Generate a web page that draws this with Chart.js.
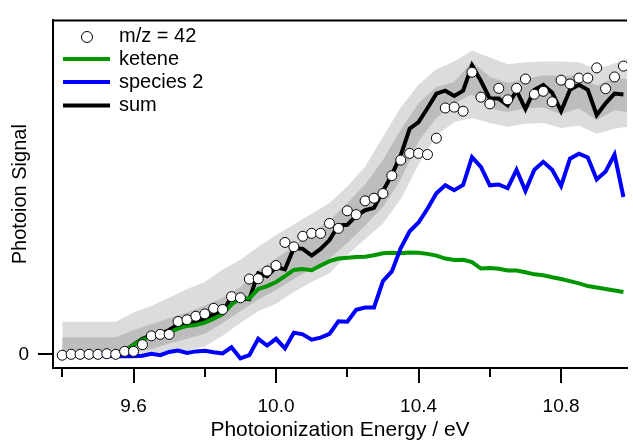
<!DOCTYPE html>
<html>
<head>
<meta charset="utf-8">
<script src="https://cdn.jsdelivr.net/npm/chart.js@4"></script>
<style>
html, body { margin: 0; padding: 0; background: #fff; }
#wrap { width: 633px; height: 443px; }
</style>
</head>
<body>
<div id="wrap"><canvas id="myChart" width="633" height="443"></canvas></div>
<script>
// photon energy (eV) of each scan point
const energy = [9.400, 9.425, 9.450, 9.475, 9.500, 9.525, 9.550, 9.575, 9.600, 9.625,
	9.650, 9.675, 9.700, 9.725, 9.750, 9.775, 9.800, 9.825, 9.850, 9.875,
	9.900, 9.925, 9.950, 9.975, 10.000, 10.025, 10.050, 10.075, 10.100, 10.125,
	10.150, 10.175, 10.200, 10.225, 10.250, 10.275, 10.300, 10.325, 10.350, 10.375,
	10.400, 10.425, 10.450, 10.475, 10.500, 10.525, 10.550, 10.575, 10.600, 10.625,
	10.650, 10.675, 10.700, 10.725, 10.750, 10.775, 10.800, 10.825, 10.850, 10.875,
	10.900, 10.925, 10.950, 10.975];

const mz42 = [-0.3, 0, 0, 0, 0, 0.2, 0, 1.0, 1.0, 3.3,
	6.3, 6.8, 6.8, 11.2, 11.8, 13.0, 13.8, 15.7, 15.3, 19.7,
	19.3, 25.7, 25.8, 28.4, 30.3, 38.2, 36.7, 40.3, 41.3, 41.3,
	44.7, 43.0, 49.0, 47.7, 52.4, 53.3, 54.9, 61.0, 66.3, 68.6,
	68.6, 68.2, 73.8, 84.1, 84.4, 83.0, 96.3, 87.8, 85.5, 90.8,
	86.9, 90.8, 94.0, 88.8, 89.8, 86.2, 93.6, 92.3, 94.3, 94.3,
	97.8, 90.7, 94.7, 98.4];

const ketene = [-0.2, -0.2, -0.2, -0.2, -0.2, -0.2, 0, 1.0, 3.2, 5.0,
	6.0, 6.8, 7.5, 8.8, 9.7, 10.0, 10.8, 12.2, 13.7, 17.0,
	19.3, 19.1, 22.3, 23.3, 24.7, 26.7, 28.8, 29.1, 28.7, 30.3,
	31.8, 32.7, 33.0, 33.2, 33.3, 33.8, 34.5, 34.7, 34.5, 34.8,
	34.7, 34.3, 33.7, 32.7, 32.2, 32.3, 31.5, 29.3, 29.5, 29.2,
	28.6, 28.6, 28.0, 27.3, 27.0, 26.3, 25.7, 25.0, 24.2, 23.3,
	22.8, 22.3, 21.8, 21.3];

const species2 = [-0.3, -0.3, -0.3, -0.5, -0.5, -0.5, -0.7, -0.7, -0.7, -0.5,
	0.2, -0.3, 0.8, 1.3, 0.5, 1.0, 1.2, 0.7, 0.3, 2.4,
	-1.4, -0.3, 5.3, 3.0, 5.3, 2.0, 7.4, 6.8, 5.0, 5.7,
	7.0, 11.3, 11.1, 15.2, 16.0, 16.0, 25.0, 28.3, 36.3, 42.0,
	45.0, 49.7, 55.0, 57.7, 56.0, 57.8, 67.3, 64.0, 57.7, 58.0,
	56.7, 63.0, 55.8, 63.0, 65.7, 63.0, 57.5, 66.8, 68.5, 67.2,
	59.7, 62.4, 68.2, 53.7];

const sum = [-0.2, -0.2, -0.2, -0.2, -0.2, -0.2, 0, 1.2, 3.3, 5.3,
	6.5, 7.0, 8.3, 10.2, 10.3, 11.0, 12.2, 13.7, 14.3, 19.7,
	19.0, 18.8, 27.7, 26.7, 29.8, 29.0, 36.3, 36.0, 33.7, 36.0,
	39.0, 44.0, 44.2, 47.3, 49.2, 50.0, 55.7, 61.3, 68.0, 77.0,
	79.3, 84.0, 89.0, 90.0, 88.2, 90.0, 98.7, 93.3, 87.3, 87.3,
	85.0, 90.0, 83.7, 90.3, 92.0, 89.3, 83.0, 90.3, 92.0, 90.3,
	81.7, 85.7, 89.0, 88.7];

// uncertainty bands around the sum
const bandEnergy = [9.40, 9.45, 9.50, 9.55, 9.60, 9.65, 9.70, 9.75, 9.80, 9.85,
	9.90, 9.95, 10.00, 10.05, 10.10, 10.15, 10.20, 10.25, 10.30, 10.35,
	10.40, 10.45, 10.50, 10.55, 10.60, 10.65, 10.70, 10.75, 10.80, 10.85,
	10.90, 10.95, 10.985];
const outerHi = [11.1, 11.1, 11.1, 11.1, 14.3, 16.5, 19.3, 22.3, 24.7, 29.0,
	32.3, 36.7, 40.7, 44.3, 48.0, 51.7, 57.3, 64.0, 74.3, 84.3,
	92.0, 97.3, 100.0, 103.7, 101.3, 99.0, 99.7, 100.0, 100.0, 99.7,
	97.3, 99.3, 100.7];
const innerHi = [5.8, 5.8, 5.8, 5.8, 8.3, 10.3, 12.3, 14.3, 16.7, 19.3,
	23.0, 28.7, 32.7, 37.0, 41.3, 45.7, 51.7, 58.0, 66.3, 76.7,
	85.7, 91.3, 93.0, 100.0, 94.7, 92.7, 94.0, 95.3, 95.0, 95.3,
	91.7, 94.3, 94.0];
const innerLo = [0, 0, 0, 0, 0.7, 1.7, 3.7, 5.3, 7.0, 10.7,
	14.7, 18.7, 22.0, 25.7, 29.3, 32.7, 38.0, 44.0, 50.3, 59.7,
	72.7, 80.7, 85.7, 88.7, 84.0, 82.7, 84.0, 84.3, 82.0, 84.0,
	80.0, 83.3, 82.7];
const outerLo = [0, 0, 0, 0, 0, 0, 0.7, 1.3, 2.7, 6.3,
	10.7, 14.7, 17.3, 21.3, 24.7, 27.7, 34.0, 39.3, 44.7, 53.0,
	64.7, 74.7, 79.3, 80.7, 79.0, 77.7, 78.7, 79.0, 77.3, 78.0,
	75.3, 77.0, 77.7];

const xTicks = [9.4, 9.6, 9.8, 10.0, 10.2, 10.4, 10.6, 10.8];
const xLabels = ['', '9.6', '', '10.0', '', '10.4', '', '10.8'];

const pts = (xs, ys) => xs.map((x, i) => ({ x: x, y: ys[i] }));

Chart.defaults.font.family = '"Liberation Sans", Arial, sans-serif';
Chart.defaults.color = '#000';

const framePlugin = {
	id: 'framePlugin',
	afterDraw(chart) {
		const { ctx, chartArea: a, scales: { x } } = chart;
		ctx.save();
		ctx.strokeStyle = '#000';
		ctx.lineWidth = 2;
		ctx.beginPath();
		ctx.moveTo(a.left - 1, a.top);
		ctx.lineTo(a.right, a.top);
		xTicks.forEach((v, i) => {
			const px = Math.round(x.getPixelForValue(v));
			ctx.moveTo(px, a.bottom);
			ctx.lineTo(px, a.bottom + (xLabels[i] ? 15 : 9));
		});
		ctx.stroke();

		// legend, top left inside the plot
		ctx.beginPath();
		ctx.arc(87, 37, 5.5, 0, Math.PI * 2);
		ctx.fillStyle = '#fff';
		ctx.fill();
		ctx.lineWidth = 1;
		ctx.stroke();
		const rows = [['#009600', 59], ['#0000ff', 82], ['#000', 105.5]];
		ctx.lineWidth = 4;
		rows.forEach(r => {
			ctx.strokeStyle = r[0];
			ctx.beginPath();
			ctx.moveTo(63, r[1]);
			ctx.lineTo(110, r[1]);
			ctx.stroke();
		});
		ctx.fillStyle = '#000';
		ctx.font = '20px "Liberation Sans", Arial, sans-serif';
		ctx.textBaseline = 'middle';
		ctx.fillText('m/z = 42', 119, 36);
		ctx.fillText('ketene', 119, 59);
		ctx.fillText('species 2', 119, 82);
		ctx.fillText('sum', 119, 105);
		ctx.restore();
	}
};

new Chart(document.getElementById('myChart'), {
	type: 'line',
	data: {
		datasets: [
			{
				label: 'm/z = 42',
				data: pts(energy, mz42),
				showLine: false,
				pointRadius: 5,
				pointBackgroundColor: '#fff',
				pointBorderColor: '#000',
				pointBorderWidth: 1,
				order: 0
			},
			{
				label: 'species 2',
				data: pts(energy, species2),
				borderColor: '#0000ff',
				borderWidth: 4,
				pointRadius: 0,
				order: 1
			},
			{
				label: 'ketene',
				data: pts(energy, ketene),
				borderColor: '#009600',
				borderWidth: 4,
				pointRadius: 0,
				order: 2
			},
			{
				label: 'sum',
				data: pts(energy, sum),
				borderColor: '#000',
				borderWidth: 4,
				pointRadius: 0,
				order: 3
			},
			{
				label: 'inner band',
				data: pts(bandEnergy, innerHi),
				borderWidth: 0,
				pointRadius: 0,
				backgroundColor: '#bdbdbd',
				fill: 5,
				order: 4
			},
			{
				label: 'inner low',
				data: pts(bandEnergy, innerLo),
				borderWidth: 0,
				pointRadius: 0,
				fill: false,
				order: 6
			},
			{
				label: 'outer band',
				data: pts(bandEnergy, outerHi),
				borderWidth: 0,
				pointRadius: 0,
				backgroundColor: '#dcdcdc',
				fill: 7,
				order: 5
			},
			{
				label: 'outer low',
				data: pts(bandEnergy, outerLo),
				borderWidth: 0,
				pointRadius: 0,
				fill: false,
				order: 7
			}
		]
	},
	options: {
		responsive: false,
		animation: false,
		layout: { padding: { top: 12, right: 0, left: 0, bottom: 0 } },
		plugins: {
			legend: { display: false },
			tooltip: { enabled: false }
		},
		scales: {
			x: {
				type: 'linear',
				min: 9.374,
				max: 10.985,
				afterBuildTicks: s => { s.ticks = xTicks.map(v => ({ value: v })); },
				afterFit: s => { s.height = 75; },
				grid: { display: false, drawTicks: false },
				border: { display: true, color: '#000', width: 2 },
				ticks: {
					padding: 27,
					maxRotation: 0,
					autoSkip: false,
					font: { size: 19 },
					callback: (v, i) => xLabels[i]
				},
				title: {
					display: true,
					text: 'Photoionization Energy / eV',
					font: { size: 21 },
					padding: { top: 0, bottom: 0 }
				}
			},
			y: {
				min: -4.67,
				max: 114,
				afterBuildTicks: s => { s.ticks = [{ value: 0 }]; },
				afterFit: s => { s.width = 53; },
				grid: { drawOnChartArea: false, drawTicks: true, tickLength: 15, color: '#000', lineWidth: 2 },
				border: { display: true, color: '#000', width: 2 },
				ticks: {
					padding: 9,
					font: { size: 19 },
					callback: v => (v === 0 ? '0' : '')
				},
				title: {
					display: true,
					text: 'Photoion Signal',
					font: { size: 20 },
					padding: { top: 8, bottom: 0 }
				}
			}
		}
	},
	plugins: [framePlugin]
});
</script>
</body>
</html>
